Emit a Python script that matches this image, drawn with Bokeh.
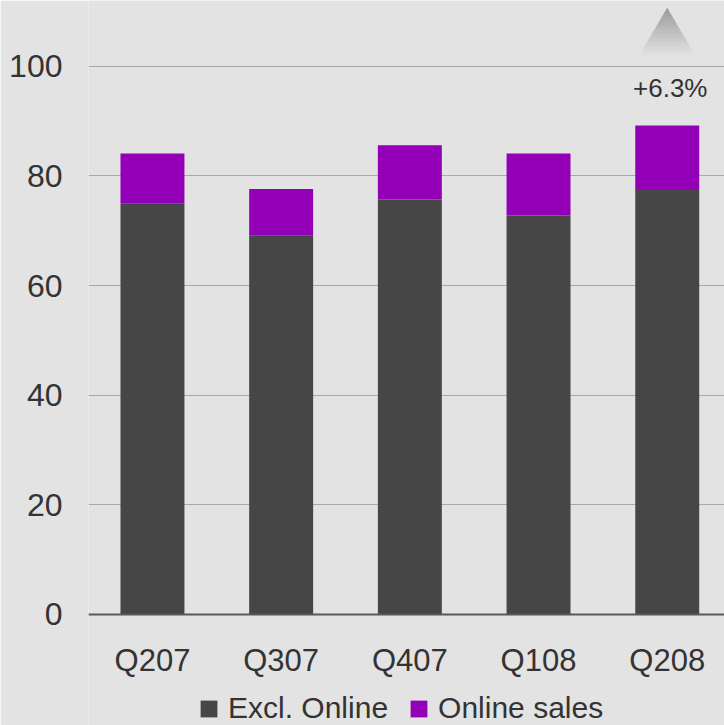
import numpy as np
from bokeh.plotting import figure
from bokeh.models import (ColumnDataSource, Legend, LegendItem, Range1d, FixedTicker,
                          CustomJSTickFormatter, Label, LinearAxis)
from bokeh.embed import file_html
from bokeh.resources import INLINE

quarters = ["Q207", "Q307", "Q407", "Q108", "Q208"]
excl_online = [75.0, 69.1, 75.7, 72.8, 77.6]
online_sales = [9.1, 8.5, 9.9, 11.3, 11.6]
growth_label = "+6.3%"
y_ticks = [0, 20, 40, 60, 80, 100]

FONT = "Liberation Sans"
TXT = "#333333"
BG = "#e3e3e3"
DARK = "#464646"
PURPLE = "#9400b8"

idx = np.arange(len(quarters))
totals = np.array(excl_online) + np.array(online_sales)
src = ColumnDataSource(dict(
    x=idx,
    base=np.zeros(len(idx)),
    excl=excl_online,
    total=totals,
))

p = figure(width=724, height=725, output_backend="svg", toolbar_location=None,
           x_range=Range1d(-0.497, 4.445), y_range=Range1d(-20.26, 112.0),
           x_axis_location=None,
           min_border_left=88, min_border_right=0, min_border_top=0, min_border_bottom=0)
p.background_fill_color = BG
p.border_fill_color = BG
p.outline_line_color = None
p.xgrid.grid_line_color = None
p.ygrid.grid_line_color = "#a8a8a8"
p.ygrid.grid_line_width = 1.2
p.ygrid.ticker = FixedTicker(ticks=y_ticks[1:])

r1 = p.vbar(x="x", bottom="base", top="excl", width=0.497, source=src,
            fill_color=DARK, line_color=None)
r2 = p.vbar(x="x", bottom="excl", top="total", width=0.497, source=src,
            fill_color=PURPLE, line_color=None)

# y axis
p.yaxis.ticker = FixedTicker(ticks=y_ticks)
p.yaxis.axis_line_color = None
p.yaxis.major_tick_line_color = None
p.yaxis.minor_tick_line_color = None
p.yaxis.major_label_standoff = 20
p.yaxis.major_label_text_font = FONT
p.yaxis.major_label_text_font_size = "32px"
p.yaxis.major_label_text_color = TXT

# x axis at y = 0
xaxis = LinearAxis(fixed_location=0,
                   ticker=FixedTicker(ticks=list(idx)),
                   formatter=CustomJSTickFormatter(args=dict(labels=quarters),
                                                   code="return labels[Math.round(tick)];"))
xaxis.axis_line_color = "#595959"
xaxis.axis_line_width = 2
xaxis.major_tick_line_color = None
xaxis.minor_tick_line_color = None
xaxis.major_label_standoff = 23
xaxis.major_label_text_font = FONT
xaxis.major_label_text_font_size = "31px"
xaxis.major_label_text_color = TXT
p.add_layout(xaxis, "below")

# growth triangle with vertical gradient (stacked slices)
last = idx[-1]
apex = totals[-1] + 21.4
base_y = totals[-1] + 12.8
half_w = 0.214
n = 30
c_top = np.array([0x99, 0x99, 0x99])
c_bot = np.array([0xe3, 0xe3, 0xe3])
xs, ys, cols = [], [], []
for k in range(n):
    t0, t1 = k / n, (k + 1) / n
    y0 = apex - (apex - base_y) * t0
    y1 = apex - (apex - base_y) * t1
    w0, w1 = half_w * t0, half_w * t1
    xs.append([last - w0, last + w0, last + w1, last - w1])
    ys.append([y0, y0, y1, y1])
    c = (c_top + (c_bot - c_top) * (t0 + t1) / 2).astype(int)
    cols.append("#%02x%02x%02x" % tuple(c))
p.patches(xs, ys, fill_color=cols, line_color=cols, line_width=0.5)

p.add_layout(Label(x=last, y=totals[-1] + 6.8, x_offset=3, text=growth_label,
                   text_font=FONT, text_font_size="26px", text_color=TXT,
                   text_align="center", text_baseline="middle"))

legend = Legend(items=[LegendItem(label="Excl. Online", renderers=[r1]),
                       LegendItem(label="Online sales", renderers=[r2])],
                orientation="horizontal", location=(110, 0),
                background_fill_alpha=0, border_line_color=None,
                label_text_font=FONT, label_text_font_size="30px",
                label_text_color=TXT, glyph_width=21, glyph_height=21,
                label_standoff=9, spacing=20, padding=0, margin=0,
                label_height=21)
p.add_layout(legend, "center")

open("out.html", "w").write(file_html(p, INLINE))
